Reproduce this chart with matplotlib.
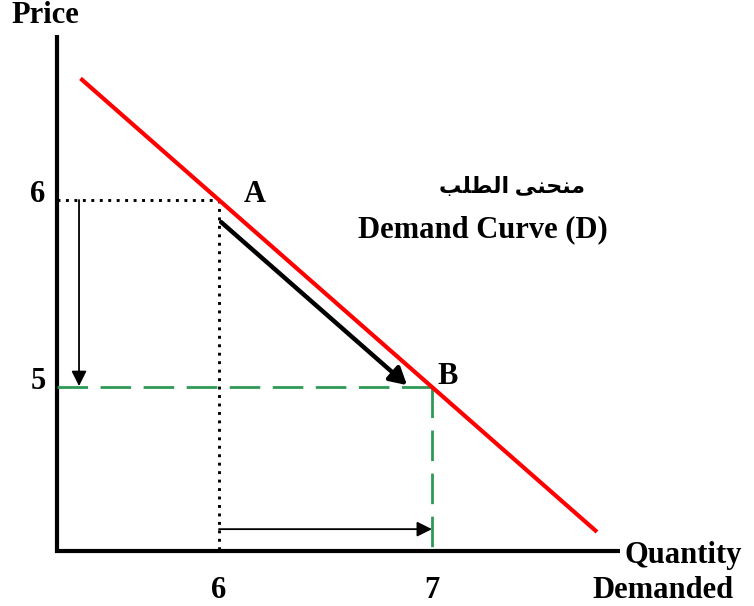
import matplotlib
matplotlib.use("Agg")
import matplotlib.pyplot as plt

# Demand schedule: two points on the demand curve (quantity, price)
quantities = [6, 7]
prices = [6, 5]
point_labels = ["A", "B"]
qty_ticks = ["6", "7"]
price_ticks = ["6", "5"]

# demand curve P = 12 - Q, drawn across this quantity range
curve_q = [5.35, 7.775]
curve_p = [12 - q for q in curve_q]

# axis origin
q0, p0 = 5.239, 4.123

W, H = 754, 606
fig = plt.figure(figsize=(W / 100, H / 100), dpi=100)
ax = fig.add_axes([0, 0, 1, 1])
ax.set_xlim(4.972, 8.512)
ax.set_ylim(3.829, 7.0695)
ax.axis("off")

serif = ["Liberation Serif", "DejaVu Sans"]
fs = 22

# axes
ax.plot([q0, q0], [p0 - 0.01, 6.882], color="black", lw=3, solid_capstyle="butt")
ax.plot([q0 - 0.01, 7.883], [p0, p0], color="black", lw=3, solid_capstyle="butt")

# demand curve
ax.plot(curve_q, curve_p, color="#ff0000", lw=3, solid_capstyle="butt", zorder=3)

qa, qb = quantities
pa, pb = prices

# dotted guides to point A
ax.plot([q0, qa], [pa, pa], color="black", lw=2.1, linestyle=(0, (1, 1.9)), zorder=2)
ax.plot([qa, qa], [pa, p0], color="black", lw=2.1, linestyle=(0, (1, 1.9)), zorder=2)

# dashed guides to point B
green = "#2e9a56"
ax.plot([q0, qb], [pb, pb], color=green, lw=2, linestyle=(0, (11, 4.5)), zorder=2)
ax.plot([qb, qb], [pb, p0], color=green, lw=2, linestyle=(0, (11, 4.5)), zorder=2)

# movement along the curve from A to B
ax.annotate("", xy=(qb - 0.117, pb + 0.01), xytext=(qa + 0.01, pa - 0.118),
            arrowprops=dict(arrowstyle="-|>,head_length=0.5,head_width=0.28",
                            color="black", lw=3.2,
                            mutation_scale=20, shrinkA=0, shrinkB=0), zorder=4)

# price falls from 6 to 5
ax.annotate("", xy=(5.343, pb + 0.005), xytext=(5.343, pa),
            arrowprops=dict(arrowstyle="-|>,head_length=0.5,head_width=0.25",
                            color="black", lw=1.3,
                            mutation_scale=18, shrinkA=0, shrinkB=0))

# quantity rises from 6 to 7
ax.annotate("", xy=(qb, 4.24), xytext=(qa, 4.24),
            arrowprops=dict(arrowstyle="-|>,head_length=0.5,head_width=0.25",
                            color="black", lw=1.3,
                            mutation_scale=18, shrinkA=0, shrinkB=0))

# point labels
ax.text(6.169, 6.03, point_labels[0], fontsize=fs, fontweight="bold",
        family=serif, ha="center", va="center")
ax.text(7.075, 5.055, point_labels[1], fontsize=fs, fontweight="bold",
        family=serif, ha="center", va="center")

# tick labels
for p, t in zip(prices, price_ticks):
    ax.text(5.15, p + 0.03, t, fontsize=fs, fontweight="bold", family=serif,
            ha="center", va="center")
for q, t in zip(quantities, qty_ticks):
    ax.text(q, 3.914, t, fontsize=fs, fontweight="bold", family=serif,
            ha="center", va="center")

# axis titles
ax.text(5.183, 6.985, "Price", fontsize=fs, fontweight="bold", family=serif,
        ha="center", va="center")
ax.text(8.178, 4.1, "Quantity", fontsize=fs, fontweight="bold", family=serif,
        ha="center", va="center")
ax.text(8.085, 3.914, "Demanded", fontsize=fs, fontweight="bold", family=serif,
        ha="center", va="center")

# curve caption (Arabic in presentation forms, visual order)
arabic = "\uFE90\uFEE0\uFEC4\uFEDF\uFE8D \uFEF0\uFEE8\uFEA4\uFEE8\uFEE3"
ax.text(7.376, 6.065, arabic, fontsize=fs - 6, fontweight="bold", family=serif,
        ha="center", va="center")
ax.text(7.239, 5.84, "Demand Curve (D)", fontsize=fs, fontweight="bold",
        family=serif, ha="center", va="center")

fig.savefig("out.png", dpi=100)
